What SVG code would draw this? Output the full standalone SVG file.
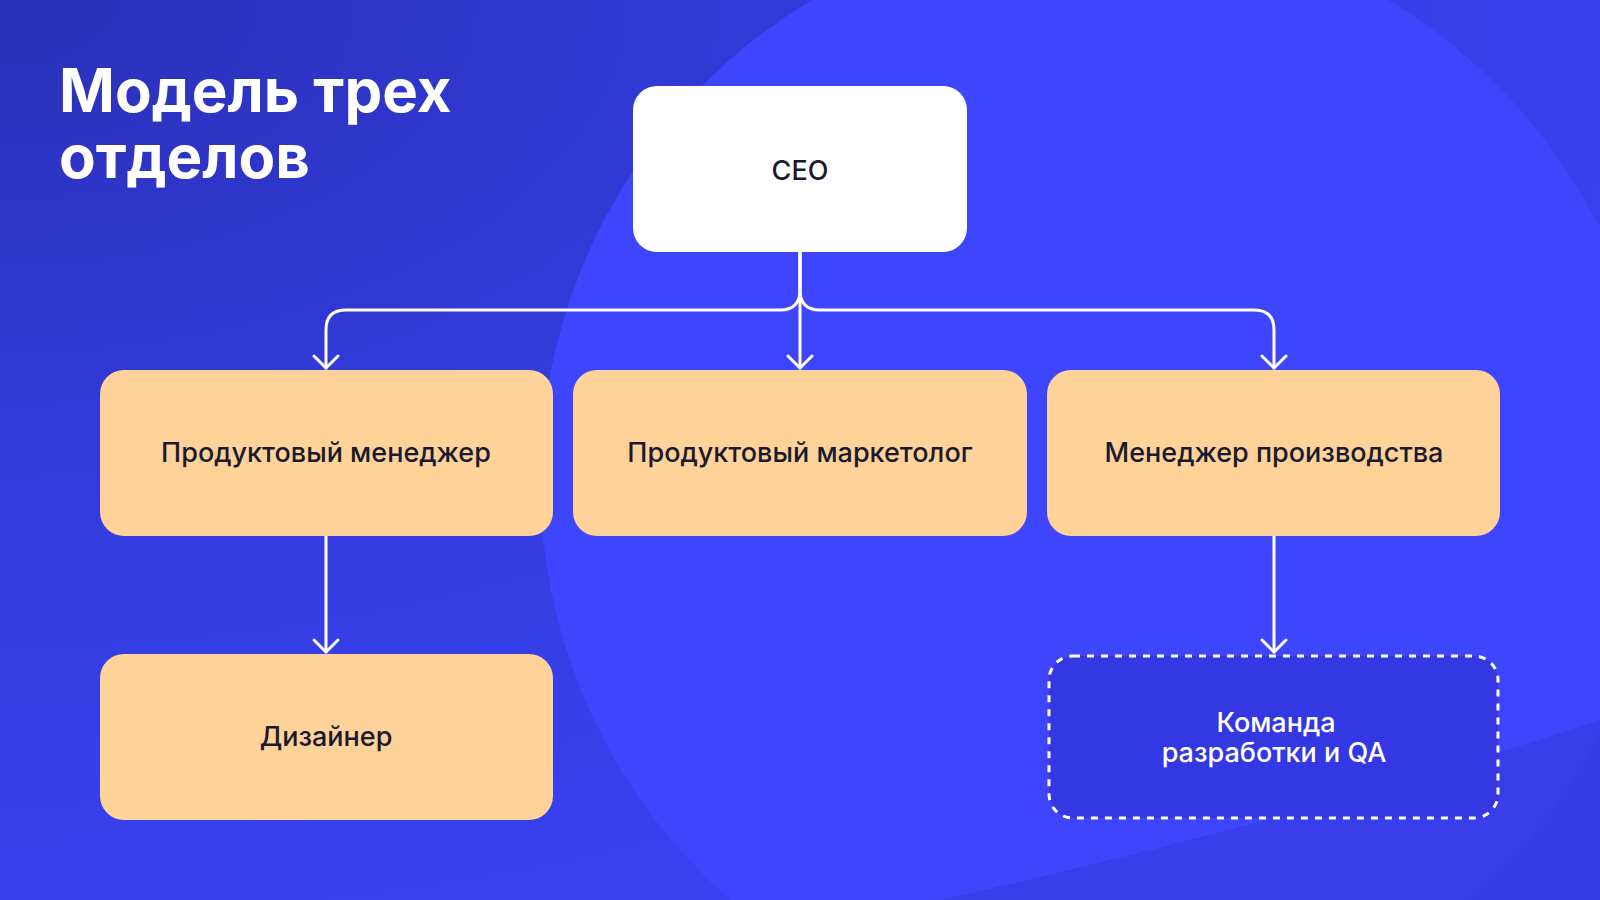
<svg xmlns="http://www.w3.org/2000/svg" width="1600" height="900" viewBox="0 0 1600 900">
<defs>
<style>
.box{fill:#fed298}
.t{font-family:"Inter","Liberation Sans",sans-serif;font-size:27px;fill:#1a1a2e;text-anchor:middle;font-weight:500}
.c{fill:none;stroke:#fff;stroke-width:3;stroke-linecap:round;stroke-linejoin:round}
</style>
<marker id="a" viewBox="0 0 20 20" refX="10" refY="16" markerWidth="20" markerHeight="20" markerUnits="userSpaceOnUse" orient="auto-start-reverse">
</marker>
<radialGradient id="bg" cx="0" cy="0" r="1.2">
<stop offset="0" stop-color="#2a31b8"/><stop offset="0.5" stop-color="#343ce0"/><stop offset="1" stop-color="#3a42f5"/>
</radialGradient>
</defs>
<rect width="1600" height="900" fill="url(#bg)"/>
<circle cx="1100" cy="480" r="560" fill="#3d45fd"/>
<path d="M1600 720 L1600 900 L940 900 Q1300 820 1600 720Z" fill="#3238d8" opacity="0.5"/>
<text x="59" y="112" font-family="Inter,'Liberation Sans',sans-serif" font-size="60" font-weight="700" fill="#fff">Модель трех</text>
<text x="59" y="178" font-family="Inter,'Liberation Sans',sans-serif" font-size="60" font-weight="700" fill="#fff">отделов</text>
<g id="connectors" class="c">
<path d="M800 252 V290 Q800 310 780 310 H346 Q326 310 326 330 V368"/>
<path d="M800 252 V290 Q800 310 820 310 H1254 Q1274 310 1274 330 V368"/>
<path d="M800 252 V368"/>
<path d="M326 536 V652"/>
<path d="M1274 536 V652"/>
<path d="M314 356 L326 368 L338 356"/>
<path d="M788 356 L800 368 L812 356"/>
<path d="M1262 356 L1274 368 L1286 356"/>
<path d="M314 640 L326 652 L338 640"/>
<path d="M1262 640 L1274 652 L1286 640"/>
</g>
<g id="ceo"><rect x="633" y="86" width="334" height="166" rx="24" fill="#fff"/><text class="t" x="800" y="180" font-size="36">CEO</text></g>
<g id="pm"><rect class="box" x="100" y="370" width="453" height="166" rx="24"/><text class="t" x="326" y="462">Продуктовый менеджер</text></g>
<g id="marketer"><rect class="box" x="573" y="370" width="454" height="166" rx="24"/><text class="t" x="800" y="462">Продуктовый маркетолог</text></g>
<g id="prodmgr"><rect class="box" x="1047" y="370" width="453" height="166" rx="24"/><text class="t" x="1274" y="462">Менеджер производства</text></g>
<g id="designer"><rect class="box" x="100" y="654" width="453" height="166" rx="24"/><text class="t" x="326" y="746">Дизайнер</text></g>
<g id="devqa"><rect x="1049" y="656" width="449" height="162" rx="24" fill="#3438e2" stroke="#fff" stroke-width="3" stroke-dasharray="7 7"/><text class="t" x="1276" y="732" style="fill:#fff">Команда</text><text class="t" x="1274" y="762" style="fill:#fff">разработки и QA</text></g>
</svg>
